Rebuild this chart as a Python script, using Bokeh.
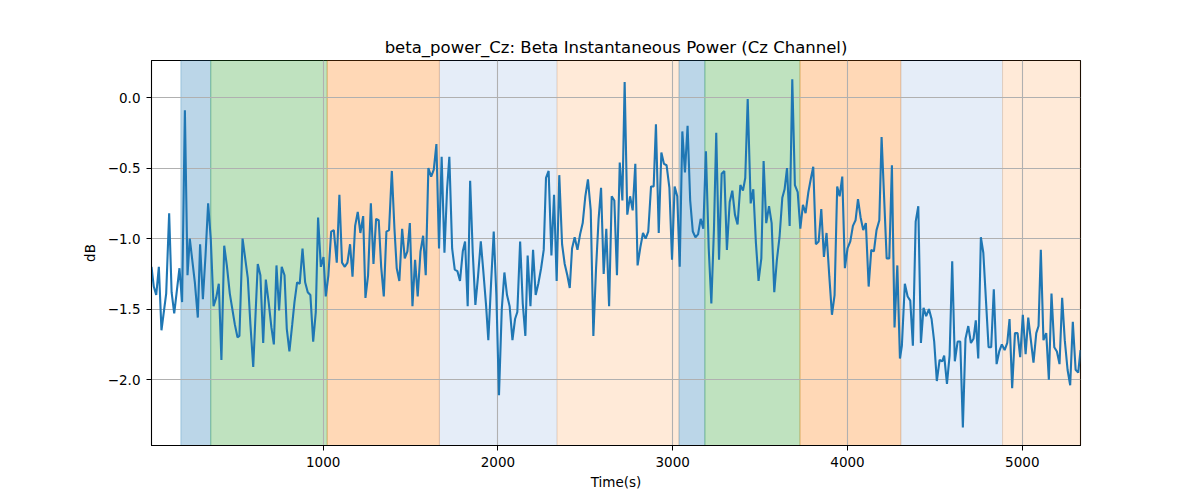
"""
beta_power_Cz : puissance instantanee beta sur le canal Cz, avec les phases en fond.
"""

from bokeh.embed import file_html
from bokeh.models import BoxAnnotation, CustomJSTickFormatter, FixedTicker, Range1d
from bokeh.plotting import figure
from bokeh.resources import INLINE


TIME_S = [
    18, 31, 45, 60, 75, 102, 119, 133, 148, 178, 193, 209, 224, 237, 266, 283, 296, 312, 327, 342,
    357, 373, 388, 403, 418, 434, 449, 466, 495, 510, 521, 539, 569, 584, 600,
    626, 641, 657, 672, 689, 704, 718, 733, 748, 763, 779, 792, 807, 823, 836, 851, 866, 882, 897,
    912, 927, 943, 958, 971, 987, 1002, 1015, 1030, 1046, 1061, 1078, 1093, 1108, 1124, 1139, 1154,
    1168, 1183, 1198, 1213, 1229,
    1242, 1257, 1273, 1288, 1303, 1318, 1332, 1347, 1362, 1377, 1393, 1408, 1421, 1436, 1452, 1467,
    1482, 1496, 1511, 1526, 1541, 1557, 1572, 1587, 1602, 1618, 1633, 1648, 1663, 1678, 1694, 1709,
    1722, 1738, 1753, 1768, 1783, 1799, 1812, 1827,
    1841, 1856, 1871, 1886, 1902, 1917, 1932, 1945, 1961, 1976, 1991, 2006, 2022, 2037, 2052, 2067,
    2083, 2098, 2111, 2127, 2142, 2157, 2170, 2186, 2201, 2216, 2231, 2247, 2262, 2275, 2290, 2306,
    2321, 2336, 2351, 2367, 2382, 2397, 2411,
    2424, 2439, 2455, 2470, 2485, 2500, 2515, 2531, 2546, 2561, 2576, 2590, 2605, 2620, 2636, 2651,
    2666, 2681, 2697, 2712, 2725, 2740, 2756, 2771, 2786, 2799, 2815, 2830, 2845, 2860, 2876, 2891,
    2904, 2920, 2935, 2950, 2965, 2981, 2996, 3011, 3026,
    3040, 3055, 3070, 3085, 3100, 3115, 3130, 3145, 3160, 3175, 3190, 3206, 3221, 3236, 3249, 3265,
    3280, 3295, 3310, 3326, 3341, 3356, 3371, 3387, 3402, 3415, 3429, 3446, 3461, 3476, 3491, 3507,
    3520, 3535, 3551, 3566, 3581, 3596, 3611, 3627, 3640, 3654, 3669, 3684, 3699, 3715, 3730, 3745,
    3760, 3776, 3791, 3804, 3819, 3835, 3850, 3865, 3880, 3896, 3911, 3926, 3941, 3955, 3970, 3985,
    4000, 4016, 4031, 4046, 4060, 4075, 4090, 4105, 4121, 4136, 4151, 4166, 4182, 4195,
    4224, 4239, 4254, 4269, 4285, 4300, 4311, 4328, 4344, 4359, 4374, 4390, 4405, 4420, 4435, 4450,
    4466, 4481, 4496, 4511, 4527, 4542, 4553, 4569, 4584, 4599, 4614, 4630, 4645, 4660, 4675, 4691,
    4706, 4721, 4734, 4748, 4763, 4777,
    4807, 4822, 4837, 4853, 4868, 4883, 4899, 4914, 4927, 4942, 4958, 4973, 4988, 5003, 5019, 5034,
    5049, 5064, 5080, 5093, 5106, 5121, 5137, 5152, 5167, 5183, 5198, 5213, 5228, 5243, 5259, 5274,
    5289, 5305, 5320, 5333,
]

BETA_DB = [
    -1.20, -1.34, -1.40, -1.20, -1.65, -1.39, -0.82, -1.38, -1.53, -1.21, -1.45, -0.09, -1.26, -1.00,
    -1.31, -1.56, -1.04, -1.43, -1.12, -0.75, -1.00, -1.48, -1.42, -1.32, -1.86, -1.05, -1.19, -1.39,
    -1.61, -1.70, -1.69, -1.00, -1.28, -1.61, -1.91,
    -1.18, -1.26, -1.74, -1.29, -1.46, -1.63, -1.75, -1.19, -1.51, -1.20, -1.26, -1.64, -1.80, -1.61,
    -1.45, -1.31, -1.32, -1.07, -1.31, -1.38, -1.40, -1.73, -1.52, -0.85, -1.20, -1.13, -1.41, -1.26,
    -0.95, -0.94, -1.17, -0.69, -1.17, -1.20, -1.17, -1.04, -1.27, -0.91, -0.81, -0.96, -0.84,
    -1.42, -1.26, -0.75, -1.18, -0.86, -0.87, -1.20, -1.41, -0.95, -0.94, -0.52, -0.93, -1.21, -1.30,
    -0.93, -1.14, -1.09, -0.89, -1.48, -1.15, -1.41, -1.09, -0.98, -1.26, -0.50, -0.56, -0.51, -0.33,
    -1.07, -0.42, -1.10, -0.65, -0.42, -1.07, -1.22, -1.23, -1.30, -1.09, -1.02, -1.48,
    -0.59, -1.10, -1.47, -1.27, -1.02, -1.24, -1.47, -1.72, -1.31, -0.95, -1.40, -2.11, -1.50, -1.24,
    -1.40, -1.48, -1.72, -1.57, -1.52, -1.02, -1.46, -1.69, -1.12, -1.48, -1.08, -1.40, -1.32, -1.21,
    -1.08, -0.57, -0.52, -1.12, -0.69, -1.30, -0.55, -1.04, -1.18, -1.26, -1.35,
    -1.07, -0.99, -1.08, -0.97, -0.89, -0.70, -0.58, -0.80, -1.69, -1.22, -0.86, -0.64, -1.25, -0.93,
    -1.48, -0.70, -0.73, -1.26, -0.46, -0.73, 0.11, -0.83, -0.70, -0.80, -0.47, -1.19, -1.06, -0.96,
    -1.00, -0.95, -0.63, -0.63, -0.19, -0.96, -0.39, -0.47, -0.48, -0.64, -1.15, -0.63, -0.70,
    -1.20, -0.24, -0.53, -0.20, -0.73, -0.95, -0.99, -0.97, -0.86, -0.93, -0.38, -1.07, -1.46, -0.93,
    -0.25, -1.15, -0.54, -0.52, -1.08, -0.74, -0.66, -0.83, -0.90, -0.62, -0.66, -0.57, -0.01, -0.75,
    -0.65, -1.03, -1.30, -1.14, -0.45, -0.89, -0.77, -0.89, -1.38, -1.15, -0.99, -0.71, -0.65, -0.50,
    -0.91, 0.13, -0.62, -0.67, -0.93, -0.76, -0.82, -0.67, -0.57, -0.49, -1.04, -1.02, -0.79, -1.13,
    -0.96, -1.27, -1.54, -1.40, -0.63, -0.70, -0.56, -1.21, -1.07, -1.02, -0.91, -0.87, -0.72, -0.85,
    -0.94, -0.89, -1.34, -1.08, -1.09, -0.94, -0.87, -0.28,
    -1.14, -1.14, -0.48, -1.63, -1.19, -1.85, -1.76, -1.32, -1.41, -1.44, -1.76, -0.88, -0.77, -1.74,
    -1.49, -1.55, -1.50, -1.57, -1.73, -2.01, -1.86, -1.87, -1.83, -2.03, -1.83, -1.16, -1.87, -1.73,
    -1.73, -2.34, -1.71, -1.62, -1.74, -1.71, -1.58, -1.85, -0.99, -1.10,
    -1.77, -1.77, -1.36, -1.89, -1.80, -1.75, -1.79, -1.74, -1.57, -2.06, -1.67, -1.67, -1.84, -1.54,
    -1.82, -1.56, -1.72, -1.88, -1.67, -1.62, -1.08, -1.72, -1.67, -2.00, -1.39, -1.77, -1.80, -1.89,
    -1.42, -1.72, -1.93, -2.04, -1.59, -1.93, -1.95, -1.79,
]

# phases en fond (debut / fin en secondes)
PHASE_START = [186, 357, 1023, 1665, 2338, 3036, 3184, 3728, 4305, 4887]
PHASE_END = [357, 1023, 1665, 2338, 3036, 3184, 3728, 4305, 4887, 5333]
PHASE_KIND = ["blue", "green", "orange", "light_blue", "light_orange",
              "blue", "green", "orange", "light_blue", "light_orange"]

PHASE_STYLE = {
    "blue": ("#1f77b4", 0.3),
    "green": ("#2ca02c", 0.3),
    "orange": ("#ff7f0e", 0.3),
    "light_blue": ("#2b6cc4", 0.12),
    "light_orange": ("#ff7f0e", 0.16),
}

X_TICKS = [1000, 2000, 3000, 4000, 5000]
Y_TICKS = [-2.0, -1.5, -1.0, -0.5, 0.0]

FONT = "DejaVu Sans"


p = figure(
    title="beta_power_Cz: Beta Instantaneous Power (Cz Channel)",
    x_axis_label="Time(s)",
    y_axis_label="dB",
    frame_width=929,
    frame_height=385,
    min_border_left=151,
    min_border_right=104,
    min_border_top=60,
    min_border_bottom=38,
    x_range=Range1d(18, 5333),
    y_range=Range1d(-2.467, 0.263),
    output_backend="svg",
    toolbar_location=None,
    tools="",
)

for start, end, kind in zip(PHASE_START, PHASE_END, PHASE_KIND):
    color, alpha = PHASE_STYLE[kind]
    p.add_layout(
        BoxAnnotation(
            left=start,
            right=end,
            fill_color=color,
            fill_alpha=alpha,
            line_color=color,
            line_alpha=alpha,
            line_width=1,
            level="image",
        )
    )

p.line(TIME_S, BETA_DB, line_width=2.1, color="#1f77b4")

p.title.align = "center"
p.title.text_font = FONT
p.title.text_font_size = "16.5px"
p.title.text_font_style = "normal"
p.title.text_color = "black"
p.title.standoff = 8

p.xaxis.ticker = FixedTicker(ticks=X_TICKS)
p.yaxis.ticker = FixedTicker(ticks=Y_TICKS)
p.yaxis.formatter = CustomJSTickFormatter(code="return tick.toFixed(1).replace('-', '\u2212');")

for axis in (p.xaxis, p.yaxis):
    axis.major_label_text_font = FONT
    axis.major_label_text_font_size = "13.5px"
    axis.major_label_text_color = "black"
    axis.axis_label_text_font = FONT
    axis.axis_label_text_font_size = "13.5px"
    axis.axis_label_text_font_style = "normal"
    axis.axis_label_text_color = "black"
    axis.major_tick_out = 5
    axis.major_tick_in = 0
    axis.minor_tick_line_color = None
    axis.major_tick_line_color = "black"
    axis.axis_line_color = "black"

p.xaxis.major_label_standoff = 6
p.xaxis.axis_label_standoff = 4
p.yaxis.major_label_standoff = 6
p.yaxis.axis_label_standoff = 7

p.grid.grid_line_color = "#b0b0b0"
p.grid.grid_line_width = 1.1
p.outline_line_color = "black"
p.outline_line_width = 1.1
p.outline_line_alpha = 1

open("out.html", "w").write(file_html(p, INLINE))
